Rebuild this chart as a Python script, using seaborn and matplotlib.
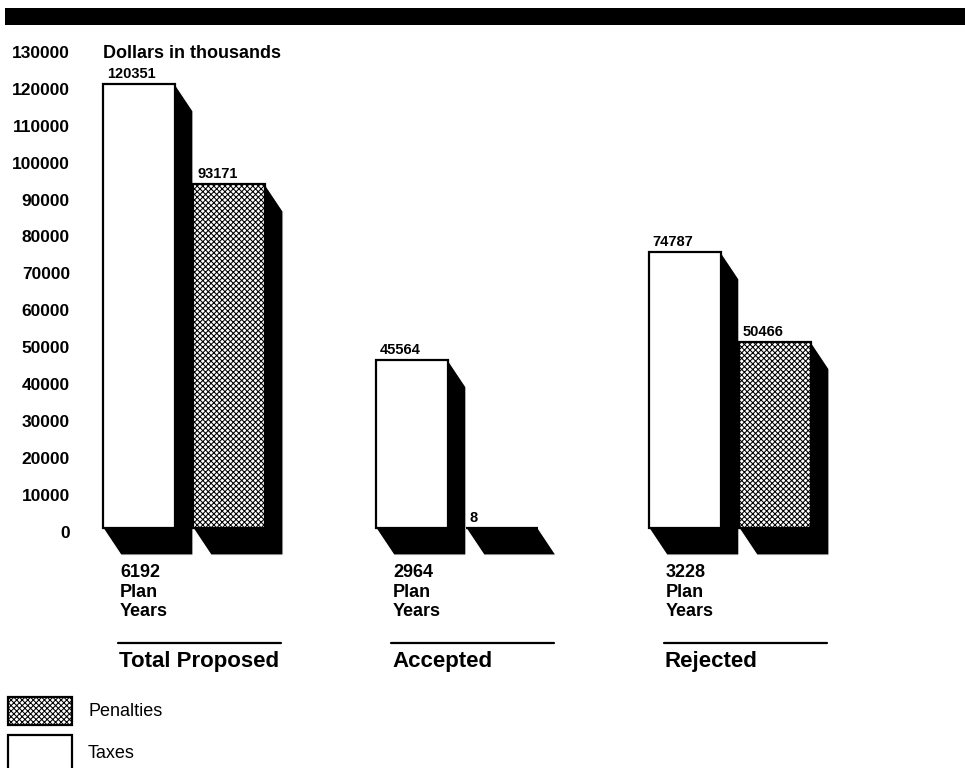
import matplotlib
matplotlib.use("Agg")
import matplotlib.pyplot as plt
import matplotlib.transforms as mtransforms
from matplotlib.patches import Polygon, Rectangle
from matplotlib.lines import Line2D
import pandas as pd
import seaborn as sns

# ---- data -------------------------------------------------------------
groups = ["Total Proposed", "Accepted", "Rejected"]
plan_years = [6192, 2964, 3228]
taxes = [120351, 45564, 74787]
penalties = [93171, 8, 50466]
series = ["Taxes", "Penalties"]
yticks = list(range(0, 130001, 10000))

df = pd.DataFrame({
    "group": groups * 2,
    "kind": ["Taxes"] * len(groups) + ["Penalties"] * len(groups),
    "value": taxes + penalties,
})

# ---- style ------------------------------------------------------------
sns.set_theme(style="white")
plt.rcParams["font.family"] = ["Liberation Sans", "DejaVu Sans"]
plt.rcParams["hatch.linewidth"] = 0.75

HATCH = "xxxxxx"

W, H, DPI = 965, 768, 100
fig = plt.figure(figsize=(W / DPI, H / DPI), dpi=DPI)
fig.patch.set_facecolor("white")


def fx(px):
    return px / W


def fy(py):
    return 1 - py / H


# axes box in pixels (left, right, top, bottom)
AX_L, AX_R, AX_T, AX_B = 80, 900, 40, 700
ax = fig.add_axes([fx(AX_L), fy(AX_B), (AX_R - AX_L) / W, (AX_B - AX_T) / H])
ax.set_facecolor("white")

sns.barplot(
    data=df, x="group", y="value", hue="kind",
    order=groups, hue_order=series,
    palette={"Taxes": "white", "Penalties": "white"}, saturation=1,
    width=0.66, gap=0.2, errorbar=None,
    edgecolor="black", linewidth=1.6, legend=False, ax=ax, zorder=3,
)

ax.set_xlim(-0.381, 2.623)
ax.set_ylim(-46600, 132300)
for s in ax.spines.values():
    s.set_visible(False)
ax.set_xticks([])
ax.set_xlabel("")
ax.set_ylabel("")
ax.grid(False)

# y tick labels
ax.set_yticks(yticks)
ax.set_yticklabels([str(t) for t in yticks], fontsize=12.5, fontweight="bold")
ax.tick_params(axis="y", length=0, pad=7.2, colors="black")
shift = mtransforms.ScaledTranslation(0, -3.5 / DPI, fig.dpi_scale_trans)
for lab in ax.get_yticklabels():
    lab.set_transform(lab.get_transform() + shift)

# penalties get the dotted fill
for bar in ax.containers[1]:
    bar.set_hatch(HATCH)

# ---- 3-D black extrusion behind each bar ------------------------------
DX, DY = 18, 27  # pixels, down and to the right
to_px = ax.transData
to_data = ax.transData.inverted()
for cont in ax.containers:
    for bar in cont:
        x0, w, h = bar.get_x(), bar.get_width(), bar.get_height()
        (l, b), (r, t) = to_px.transform([(x0, 0), (x0 + w, h)])
        pts = [(l, t), (r, t), (r + DX, t - DY), (r + DX, b - DY),
               (l + DX, b - DY), (l, b)]
        ax.add_patch(Polygon(to_data.transform(pts), closed=True,
                             facecolor="black", edgecolor="white",
                             linewidth=0.9, zorder=2))

# ---- value labels -----------------------------------------------------
for cont, vals in zip(ax.containers, [taxes, penalties]):
    for bar, v in zip(cont, vals):
        ax.annotate(str(v), xy=(bar.get_x(), bar.get_height()),
                    xytext=(4, 3), textcoords="offset pixels",
                    ha="left", va="bottom", fontsize=10.5,
                    fontweight="bold", color="black", zorder=5)

ax.annotate("Dollars in thousands", xy=(0, 130000), xytext=(-81, -5),
            textcoords="offset pixels", ha="left", va="center",
            fontsize=13, fontweight="bold", color="black")

# ---- group captions under the bars ------------------------------------
for i, (g, n) in enumerate(zip(groups, plan_years)):
    ax.annotate(f"{n}\nPlan\nYears", xy=(i, 0), xytext=(-64, -36),
                textcoords="offset pixels", ha="left", va="top",
                fontsize=13, fontweight="bold", color="black",
                linespacing=1.2)
    gx, _ = to_px.transform((i, 0))
    fig.add_artist(Line2D([fx(gx - 66), fx(gx + 97)], [fy(643), fy(643)],
                          transform=fig.transFigure, color="black", lw=1.6))
    ax.annotate(g, xy=(i, 0), xytext=(-65, -133),
                textcoords="offset pixels", ha="left", va="center",
                fontsize=16, fontweight="bold", color="black")

# ---- header band ------------------------------------------------------
fig.add_artist(Rectangle((fx(5), fy(25)), fx(965) - fx(5), (25 - 8) / H,
                         transform=fig.transFigure, facecolor="black",
                         edgecolor="none"))

# ---- legend -----------------------------------------------------------
fig.add_artist(Rectangle((fx(8), fy(725)), 64 / W, 28 / H,
                         transform=fig.transFigure, facecolor="white",
                         edgecolor="black", hatch=HATCH, lw=1.6))
fig.add_artist(Rectangle((fx(8), fy(772)), 64 / W, 37 / H,
                         transform=fig.transFigure, facecolor="white",
                         edgecolor="black", lw=1.6))
fig.text(fx(88), fy(712), "Penalties", ha="left", va="center",
         fontsize=13, color="black")
fig.text(fx(88), fy(754), "Taxes", ha="left", va="center",
         fontsize=13, color="black")

fig.savefig("out.png", dpi=DPI, facecolor="white")
